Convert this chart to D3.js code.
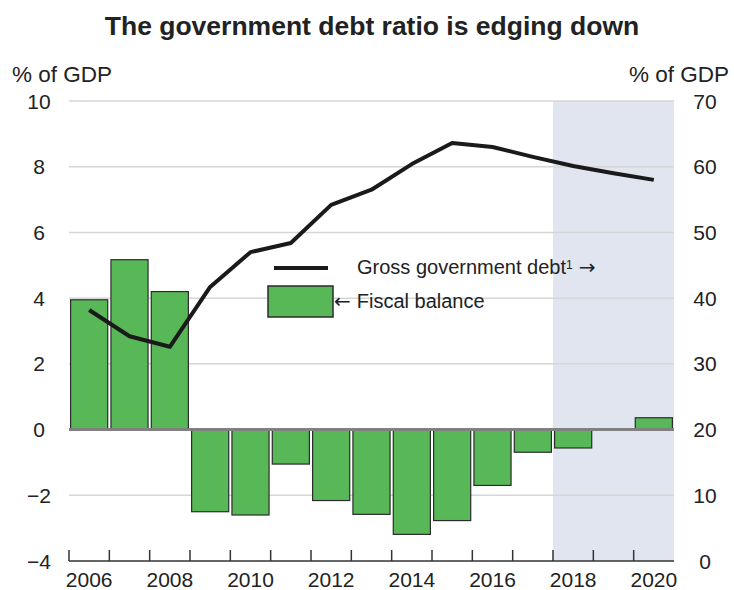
<!DOCTYPE html>
<html>
  <head>
    <meta charset="utf-8">
    <style>
      body {
        margin: 0;
        background: #fff;
        font-family: "Liberation Sans", Arial, sans-serif;
      }
      .tick-label {
        font-size: 21px;
        fill: #222;
      }
      .arrow {
        font-family: "DejaVu Sans", sans-serif;
      }
    </style>
  </head>
  <body>
    <script src="https://d3js.org/d3.v7.min.js"></script>
    <script>
      // chart data
      var years = [2006, 2007, 2008, 2009, 2010, 2011, 2012, 2013, 2014, 2015, 2016, 2017, 2018, 2019, 2020];
      var fiscalBalance = [3.95, 5.17, 4.2, -2.5, -2.6, -1.05, -2.16, -2.58, -3.19, -2.77, -1.7, -0.69, -0.56, 0, 0.36];
      var grossDebt = [38.2, 34.2, 32.6, 41.7, 47.0, 48.4, 54.2, 56.5, 60.4, 63.6, 63.0, 61.5, 60.1, 59.0, 58.0];
      var leftTicks = [-4, -2, 0, 2, 4, 6, 8, 10];
      var rightTicks = [0, 10, 20, 30, 40, 50, 60, 70];
      var yearLabels = [2006, 2008, 2010, 2012, 2014, 2016, 2018, 2020];
      var projectionStart = 2018;

      var width = 734, height = 590;
      var plot = {left: 69, right: 674, top: 101, bottom: 561};

      var svg = d3.select("body").append("svg")
          .attr("width", width)
          .attr("height", height);

      var x = d3.scaleBand()
          .domain(years)
          .range([plot.left, plot.right])
          .paddingInner(0.08)
          .paddingOuter(0.04);

      var yLeft = d3.scaleLinear().domain([-4, 10]).range([plot.bottom, plot.top]);
      var yRight = d3.scaleLinear().domain([0, 70]).range([plot.bottom, plot.top]);

      // left edge of a year's slot
      function edge(d) { return x(d) - x.step() * x.paddingInner() / 2; }

      // projection shading
      svg.append("rect")
          .attr("x", edge(projectionStart))
          .attr("y", plot.top)
          .attr("width", plot.right - edge(projectionStart))
          .attr("height", plot.bottom - plot.top)
          .style("fill", "#e1e5ef");

      // gridlines
      svg.append("g").selectAll("line")
          .data(leftTicks.filter(function(d) { return d !== -4 && d !== 0; }))
        .enter().append("line")
          .attr("x1", plot.left)
          .attr("x2", plot.right)
          .attr("y1", function(d) { return yLeft(d); })
          .attr("y2", function(d) { return yLeft(d); })
          .style("stroke", "#d6d6d6")
          .style("stroke-width", 1.5);

      // bars
      svg.append("g").selectAll("rect")
          .data(years.map(function(y, i) { return {year: y, value: fiscalBalance[i]}; })
                .filter(function(d) { return d.value !== 0; }))
        .enter().append("rect")
          .attr("x", function(d) { return x(d.year); })
          .attr("width", x.bandwidth())
          .attr("y", function(d) { return yLeft(Math.max(0, d.value)); })
          .attr("height", function(d) { return Math.abs(yLeft(d.value) - yLeft(0)); })
          .style("fill", "#58b858")
          .style("stroke", "#2b2b2b")
          .style("stroke-width", 1.2);

      // zero line
      svg.append("line")
          .attr("x1", plot.left)
          .attr("x2", plot.right)
          .attr("y1", yLeft(0))
          .attr("y2", yLeft(0))
          .style("stroke", "#808080")
          .style("stroke-width", 3);

      // bottom axis with ticks at slot edges
      var axisG = svg.append("g");
      axisG.append("line")
          .attr("x1", plot.left)
          .attr("x2", plot.right)
          .attr("y1", plot.bottom)
          .attr("y2", plot.bottom)
          .style("stroke", "#333")
          .style("stroke-width", 1.5);
      axisG.selectAll(".edge")
          .data(years)
        .enter().append("line")
          .attr("class", "edge")
          .attr("x1", edge)
          .attr("x2", edge)
          .attr("y1", plot.bottom)
          .attr("y2", plot.bottom - 11)
          .style("stroke", "#333")
          .style("stroke-width", 1.5);

      axisG.selectAll("text")
          .data(yearLabels)
        .enter().append("text")
          .attr("class", "tick-label")
          .attr("x", function(d) { return x(d) + x.bandwidth() / 2; })
          .attr("y", 587)
          .attr("text-anchor", "middle")
          .text(function(d) { return d; });

      // left tick labels
      svg.append("g").selectAll("text")
          .data(leftTicks)
        .enter().append("text")
          .attr("class", "tick-label")
          .attr("x", 39)
          .attr("y", function(d) { return yLeft(d); })
          .attr("dy", "0.36em")
          .attr("text-anchor", "middle")
          .text(function(d) { return d < 0 ? "\u2212" + Math.abs(d) : d; });

      // right tick labels
      svg.append("g").selectAll("text")
          .data(rightTicks)
        .enter().append("text")
          .attr("class", "tick-label")
          .attr("x", 705)
          .attr("y", function(d) { return yRight(d); })
          .attr("dy", "0.36em")
          .attr("text-anchor", "middle")
          .text(function(d) { return d; });

      // debt line on right axis
      var line = d3.line()
          .x(function(d, i) { return x(years[i]) + x.bandwidth() / 2; })
          .y(function(d) { return yRight(d); });

      svg.append("path")
          .datum(grossDebt)
          .attr("d", line)
          .style("fill", "none")
          .style("stroke", "#1a1a1a")
          .style("stroke-width", 4)
          .style("stroke-linejoin", "round");

      // legend
      var legend = svg.append("g");
      legend.append("line")
          .attr("x1", 274).attr("x2", 328)
          .attr("y1", 268).attr("y2", 268)
          .style("stroke", "#1a1a1a")
          .style("stroke-width", 4);
      var debtLabel = legend.append("text")
          .attr("x", 357).attr("y", 274)
          .style("font-size", "20px")
          .style("fill", "#222");
      debtLabel.append("tspan").text("Gross government debt");
      debtLabel.append("tspan")
          .attr("dy", -5)
          .style("font-size", "12px")
          .text("1");
      debtLabel.append("tspan")
          .attr("class", "arrow")
          .attr("dy", 5)
          .attr("dx", 6)
          .text("\u2192");

      legend.append("rect")
          .attr("x", 268).attr("y", 286)
          .attr("width", 65).attr("height", 31)
          .style("fill", "#58b858")
          .style("stroke", "#2b2b2b")
          .style("stroke-width", 1.5);
      var fiscalLabel = legend.append("text")
          .attr("x", 334).attr("y", 308)
          .style("font-size", "20px")
          .style("fill", "#222");
      fiscalLabel.append("tspan")
          .attr("class", "arrow")
          .text("\u2190");
      fiscalLabel.append("tspan")
          .attr("dx", 6)
          .text("Fiscal balance");

      // title and axis units
      svg.append("text")
          .attr("x", 372)
          .attr("y", 35)
          .attr("text-anchor", "middle")
          .style("font-size", "26.5px")
          .style("font-weight", "bold")
          .style("fill", "#222")
          .text("The government debt ratio is edging down");

      svg.append("text")
          .attr("x", 12)
          .attr("y", 82)
          .style("font-size", "22.5px")
          .style("fill", "#222")
          .text("% of GDP");

      svg.append("text")
          .attr("x", 729)
          .attr("y", 82)
          .attr("text-anchor", "end")
          .style("font-size", "22.5px")
          .style("fill", "#222")
          .text("% of GDP");
    </script>
  </body>
</html>
